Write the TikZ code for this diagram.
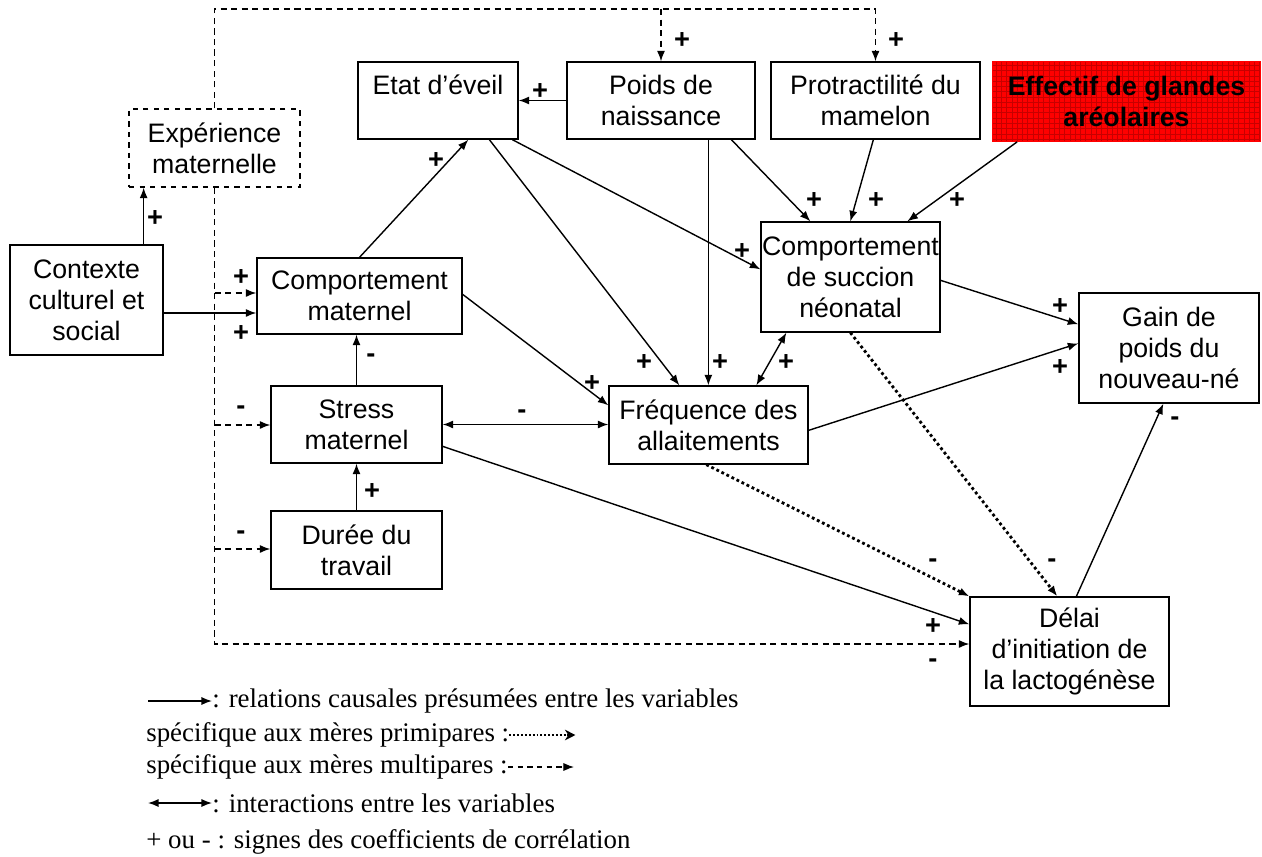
\documentclass[tikz,border=0pt]{standalone}
\usepackage{fontspec}
\setmainfont{Liberation Sans}
\newfontfamily\legendfont{Liberation Serif}
\usetikzlibrary{arrows.meta,calc,patterns}

\begin{document}
\begin{tikzpicture}[x=0.02cm,y=-0.02cm,
  box/.style={draw, align=center, inner sep=0pt, line width=0.75pt, font=\fontsize{15.2}{17.6}\selectfont},
  sign/.style={inner sep=0pt, font=\fontsize{15.5}{15.5}\selectfont\bfseries},
  causal/.style={-{Latex[length=6pt,width=4.6pt]}, line width=0.8pt},
  inter/.style={{Latex[length=6pt,width=4.6pt]}-{Latex[length=6pt,width=4.6pt]}, line width=0.8pt},
  primi/.style={causal, line width=1.6pt, dash pattern=on 1.6pt off 1.6pt},
  multi/.style={causal, dash pattern=on 3.5pt off 2.5pt},
  legend/.style={anchor=west, inner sep=0pt, font=\legendfont\fontsize{15.3}{15.3}\selectfont}]
\useasboundingbox (0,0) rectangle (1262,856);
% boxes
\node [box, minimum width=3.2cm, minimum height=1.54cm] (etat) at (438,100.5) {Etat d’éveil\\~};
\node [box, minimum width=3.76cm, minimum height=1.54cm] (poids) at (661,100.5) {Poids de\\naissance};
\node [box, minimum width=4.18cm, minimum height=1.54cm] (protr) at (875.5,100.5) {Protractilité du\\mamelon};
\node [box, draw=red, line width=1pt, fill=red, postaction={pattern=grid, pattern color=red!78!black},
  minimum width=5.34cm, minimum height=1.58cm, font=\fontsize{15.2}{17.6}\selectfont\bfseries] (effectif) at (1126.5,101.5) {Effectif de glandes\\aréolaires};
\node [box, dashed, minimum width=3.42cm, minimum height=1.56cm] (exper) at (214.5,148) {Expérience\\maternelle};
\node [box, minimum width=3.06cm, minimum height=2.2cm] (contexte) at (86.5,300) {Contexte\\culturel et\\social};
\node [box, minimum width=4.1cm, minimum height=1.52cm] (compmat) at (359.5,296) {Comportement\\maternel};
\node [box, minimum width=3.58cm, minimum height=2.2cm] (succion) at (850.5,277) {Comportement\\de succion\\néonatal};
\node [box, minimum width=3.6cm, minimum height=2.2cm] (gain) at (1169,348) {Gain de\\poids du\\nouveau-né};
\node [box, minimum width=3.42cm, minimum height=1.54cm] (stress) at (356.5,424.5) {Stress\\maternel};
\node [box, minimum width=3.98cm, minimum height=1.56cm] (freq) at (708.5,425) {Fréquence des\\allaitements};
\node [box, minimum width=3.42cm, minimum height=1.56cm] (duree) at (356.5,550) {Durée du\\travail};
\node [box, minimum width=3.98cm, minimum height=2.18cm] (delai) at (1069.5,651.5) {Délai\\d’initiation de\\la lactogénèse};
% multipares (dashed)
\coordinate (top) at (214.5,9);
\coordinate (bus) at (214.5,644);
\coordinate (b1) at (214.5,293);
\coordinate (b2) at (214.5,425);
\coordinate (b3) at (214.5,549);
\draw [multi] (exper.north) |- (top -| protr.north) -- (protr.north);
\draw [multi] (top -| poids.north) -- (poids.north);
\draw [multi] (exper.south) |- (bus -| delai.west);
\draw [multi] (b1) -- (b1 -| compmat.west);
\draw [multi] (b2) -- (b2 -| stress.west);
\draw [multi] (b3) -- (b3 -| duree.west);
% causal
\coordinate (up) at ($(contexte.north east)+(-20,0)$);
\coordinate (ctx) at ($(contexte.east)+(0,13)$);
\coordinate (pf) at ($(poids.south west)+(142,0)$);
\draw [causal] (up) -- (up |- exper.south);
\draw [causal] (ctx) -- (ctx -| compmat.west);
\draw [causal] (poids.west) -- (etat.east);
\draw [causal] (compmat.north) -- ($(etat.south west)+(111,0)$);
\draw [causal] ($(etat.south west)+(132,0)$) -- ($(freq.north west)+(71,0)$);
\draw [causal] ($(etat.south west)+(155,0)$) -- ($(succion.north west)+(0,48)$);
\draw [causal] (pf) -- (pf |- freq.north);
\draw [causal] ($(poids.south west)+(165,0)$) -- ($(succion.north west)+(50,0)$);
\draw [causal] ($(protr.south west)+(103,0)$) -- ($(succion.north west)+(90,0)$);
\draw [causal] ($(effectif.south west)+(25,0)$) -- ($(succion.north west)+(147,0)$);
\draw [causal] ($(compmat.north east)+(0,37)$) -- ($(freq.north west)+(0,20)$);
\draw [causal] (stress.north) -- (stress.north |- compmat.south);
\draw [causal] (duree.north) -- (duree.north |- stress.south);
\draw [inter] (stress.east) -- (stress.east -| freq.west);
\draw [causal] ($(stress.north east)+(0,61)$) -- ($(delai.north west)+(0,28)$);
\draw [inter] ($(freq.north west)+(148,0)$) -- ($(succion.south west)+(26,0)$);
\draw [causal] ($(freq.north east)+(0,45)$) -- ($(gain.north west)+(0,51)$);
\draw [causal] ($(succion.north east)+(0,59)$) -- ($(gain.north west)+(0,32)$);
\draw [causal] ($(delai.north west)+(107,0)$) -- ($(gain.south west)+(85,0)$);
% primipares (dotted)
\draw [primi] ($(freq.south west)+(98,0)$) -- (delai.north west);
\draw [primi] ($(succion.south west)+(90,0)$) -- ($(delai.north west)+(88,0)$);
% signs
\node [sign] (s1) at (540,92) {+};
\node [sign] (s2) at (436,161) {+};
\node [sign] (s3) at (682,41) {+};
\node [sign] (s4) at (896,41) {+};
\node [sign] (s5) at (155,219) {+};
\node [sign] (s6) at (241,278) {+};
\node [sign] (s7) at (241,334) {+};
\node [sign] (s8) at (814,201) {+};
\node [sign] (s9) at (876,201) {+};
\node [sign] (s10) at (957,201) {+};
\node [sign] (s11) at (742,252) {+};
\node [sign] (s12) at (644,363) {+};
\node [sign] (s13) at (720,363) {+};
\node [sign] (s14) at (786,363) {+};
\node [sign] (s15) at (592,384) {+};
\node [sign] (s16) at (371,358) {-};
\node [sign] (s17) at (241,410) {-};
\node [sign] (s18) at (522,414) {-};
\node [sign] (s19) at (372,492) {+};
\node [sign] (s20) at (241,535) {-};
\node [sign] (s21) at (1060,307) {+};
\node [sign] (s22) at (1060,368) {+};
\node [sign] (s23) at (1175,421) {-};
\node [sign] (s24) at (933,563) {-};
\node [sign] (s25) at (1052,563) {-};
\node [sign] (s26) at (933,627) {+};
\node [sign] (s27) at (933,663) {-};
% legend
\node [legend] (leg1) at (212,701) {: relations causales présumées entre les variables};
\node [legend] (leg2) at (146,735) {spécifique aux mères primipares :};
\node [legend] (leg3) at (146,767) {spécifique aux mères multipares :};
\node [legend] (leg4) at (212,803) {: interactions entre les variables};
\node [legend] (leg5) at (146,842) {+ ou - : signes des coefficients de corrélation};
\draw [causal] ($(leg1.west)+(-64,0)$) -- (leg1.west);
\draw [-{Stealth[length=6pt,width=6pt]}, line width=1.1pt, dash pattern=on 1.1pt off 1.1pt] (leg2.east) -- ($(leg2.east)+(66,0)$);
\draw [multi, line width=0.6pt, dash pattern=on 3pt off 2.5pt] (leg3.east) -- ($(leg3.east)+(66,0)$);
\draw [inter] ($(leg4.west)+(-64,0)$) -- (leg4.west);
\end{tikzpicture}
\end{document}
